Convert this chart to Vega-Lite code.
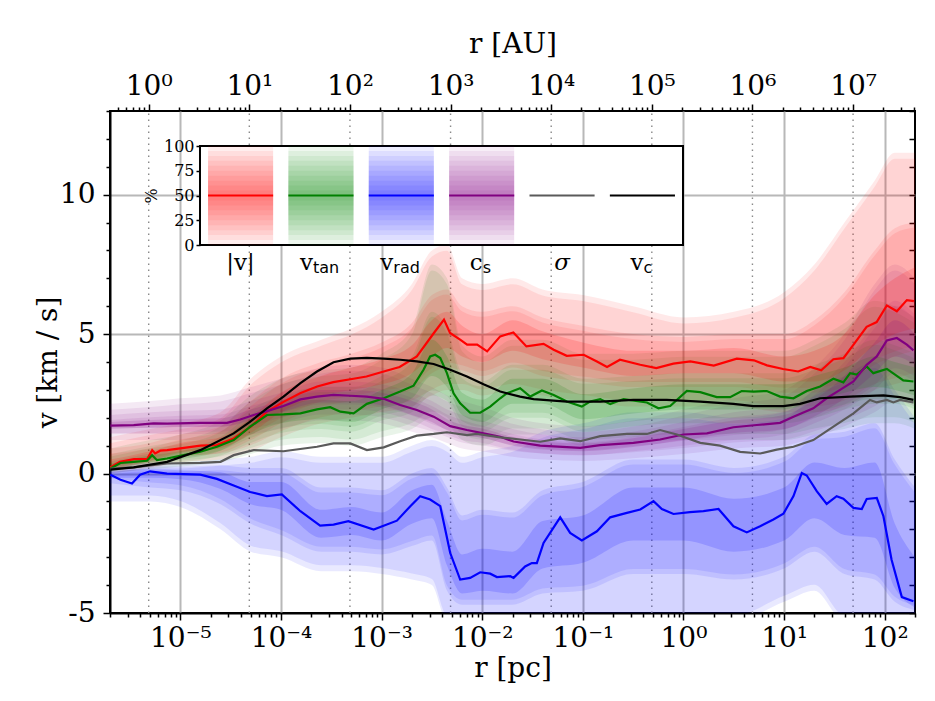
{
  "$schema": "https://vega.github.io/schema/vega-lite/v6.json",
  "width": 805,
  "height": 502,
  "autosize": {"type": "none"},
  "padding": {"left": 110, "top": 111, "right": 20, "bottom": 88},
  "background": "white",
  "config": {
    "font": "DejaVu Serif",
    "view": {"stroke": "black", "strokeWidth": 2},
    "axis": {
      "labelFont": "DejaVu Serif", "titleFont": "DejaVu Serif",
      "labelColor": "black", "titleColor": "black", "titleFontWeight": "normal",
      "domainColor": "black", "tickColor": "black", "domainWidth": 2, "tickWidth": 1.5,
      "gridColor": "#b8b8b8", "gridWidth": 2,
      "labelOverlap": false, "labelFlush": false
    }
  },
  "datasets": {
    "auGrid": [{"au": 1}, {"au": 10}, {"au": 100}, {"au": 1000}, {"au": 10000}, {"au": 100000}, {"au": 1000000}, {"au": 10000000}],
    "bands": [
      {"s":"|v|","r":2e-6,"p5":0.0,"p15":0.1,"p30":0.15,"p70":0.5,"p85":0.9,"p95":1.3},
      {"s":"|v|","r":5.01e-6,"p5":0.2,"p15":0.35,"p30":0.45,"p70":0.8,"p85":1.1,"p95":1.6},
      {"s":"|v|","r":1e-5,"p5":0.4,"p15":0.6,"p30":0.75,"p70":1.1,"p85":1.4,"p95":1.8},
      {"s":"|v|","r":2.51e-5,"p5":0.5,"p15":0.75,"p30":0.9,"p70":1.3,"p85":1.7,"p95":2.2},
      {"s":"|v|","r":5.01e-5,"p5":0.8,"p15":1.2,"p30":1.45,"p70":2.0,"p85":2.6,"p95":3.4},
      {"s":"|v|","r":1e-4,"p5":1.3,"p15":1.8,"p30":2.2,"p70":2.9,"p85":3.4,"p95":4.2},
      {"s":"|v|","r":2.51e-4,"p5":1.8,"p15":2.4,"p30":2.8,"p70":3.5,"p85":4.0,"p95":4.8},
      {"s":"|v|","r":5.01e-4,"p5":2.0,"p15":2.6,"p30":3.0,"p70":3.8,"p85":4.3,"p95":5.2},
      {"s":"|v|","r":1e-3,"p5":2.2,"p15":2.8,"p30":3.2,"p70":4.1,"p85":4.7,"p95":5.8},
      {"s":"|v|","r":2e-3,"p5":2.4,"p15":3.0,"p30":3.6,"p70":4.6,"p85":5.4,"p95":6.8},
      {"s":"|v|","r":3.16e-3,"p5":2.8,"p15":3.6,"p30":4.2,"p70":5.5,"p85":6.4,"p95":8.0},
      {"s":"|v|","r":4.47e-3,"p5":3.0,"p15":3.8,"p30":4.5,"p70":5.8,"p85":6.6,"p95":8.2},
      {"s":"|v|","r":6.31e-3,"p5":3.0,"p15":3.7,"p30":4.2,"p70":5.3,"p85":6.0,"p95":7.0},
      {"s":"|v|","r":0.01,"p5":2.8,"p15":3.5,"p30":4.0,"p70":5.0,"p85":5.8,"p95":6.8},
      {"s":"|v|","r":0.02,"p5":3.0,"p15":3.8,"p30":4.4,"p70":5.5,"p85":6.0,"p95":7.0},
      {"s":"|v|","r":0.0398,"p5":2.8,"p15":3.5,"p30":4.1,"p70":5.1,"p85":5.6,"p95":6.6},
      {"s":"|v|","r":0.1,"p5":2.6,"p15":3.3,"p30":3.8,"p70":4.7,"p85":5.3,"p95":6.4},
      {"s":"|v|","r":0.316,"p5":2.4,"p15":3.1,"p30":3.5,"p70":4.4,"p85":5.0,"p95":6.0},
      {"s":"|v|","r":1,"p5":2.4,"p15":3.1,"p30":3.6,"p70":4.4,"p85":4.9,"p95":5.6},
      {"s":"|v|","r":3.16,"p5":2.4,"p15":3.1,"p30":3.6,"p70":4.5,"p85":5.0,"p95":5.8},
      {"s":"|v|","r":10,"p5":2.2,"p15":2.9,"p30":3.3,"p70":4.2,"p85":5.0,"p95":6.5},
      {"s":"|v|","r":20,"p5":2.2,"p15":2.9,"p30":3.3,"p70":4.4,"p85":5.5,"p95":7.5},
      {"s":"|v|","r":39.8,"p5":2.4,"p15":3.1,"p30":3.7,"p70":5.0,"p85":6.5,"p95":9.0},
      {"s":"|v|","r":79.4,"p5":3.0,"p15":3.9,"p30":4.6,"p70":6.4,"p85":8.0,"p95":10.5},
      {"s":"|v|","r":126,"p5":3.2,"p15":4.2,"p30":5.0,"p70":7.0,"p85":8.8,"p95":11.5},
      {"s":"|v|","r":200,"p5":3.4,"p15":4.4,"p30":5.2,"p70":7.4,"p85":9.0,"p95":11.5},

      {"s":"v_tan","r":2e-6,"p5":0.0,"p15":0.05,"p30":0.1,"p70":0.35,"p85":0.6,"p95":0.9},
      {"s":"v_tan","r":5.01e-6,"p5":0.15,"p15":0.3,"p30":0.4,"p70":0.65,"p85":0.9,"p95":1.2},
      {"s":"v_tan","r":1e-5,"p5":0.25,"p15":0.4,"p30":0.52,"p70":0.8,"p85":1.05,"p95":1.4},
      {"s":"v_tan","r":2.51e-5,"p5":0.4,"p15":0.65,"p30":0.82,"p70":1.2,"p85":1.5,"p95":1.9},
      {"s":"v_tan","r":5.01e-5,"p5":0.7,"p15":1.1,"p30":1.4,"p70":1.95,"p85":2.3,"p95":2.8},
      {"s":"v_tan","r":1e-4,"p5":1.0,"p15":1.45,"p30":1.8,"p70":2.45,"p85":2.8,"p95":3.4},
      {"s":"v_tan","r":2.51e-4,"p5":1.1,"p15":1.6,"p30":1.95,"p70":2.65,"p85":3.1,"p95":3.7},
      {"s":"v_tan","r":5.01e-4,"p5":1.0,"p15":1.5,"p30":1.85,"p70":2.6,"p85":3.1,"p95":3.8},
      {"s":"v_tan","r":1e-3,"p5":1.3,"p15":1.9,"p30":2.3,"p70":3.0,"p85":3.5,"p95":4.3},
      {"s":"v_tan","r":2e-3,"p5":1.6,"p15":2.2,"p30":2.7,"p70":3.6,"p85":4.2,"p95":5.2},
      {"s":"v_tan","r":3.16e-3,"p5":2.0,"p15":2.8,"p30":3.5,"p70":4.8,"p85":5.8,"p95":7.5},
      {"s":"v_tan","r":4.47e-3,"p5":1.8,"p15":2.6,"p30":3.1,"p70":4.2,"p85":5.2,"p95":7.0},
      {"s":"v_tan","r":6.31e-3,"p5":1.2,"p15":1.7,"p30":2.1,"p70":2.9,"p85":3.6,"p95":4.6},
      {"s":"v_tan","r":0.01,"p5":1.0,"p15":1.5,"p30":1.85,"p70":2.65,"p85":3.3,"p95":4.2},
      {"s":"v_tan","r":0.02,"p5":1.4,"p15":2.0,"p30":2.5,"p70":3.4,"p85":3.9,"p95":4.8},
      {"s":"v_tan","r":0.0398,"p5":1.4,"p15":2.0,"p30":2.5,"p70":3.4,"p85":3.9,"p95":4.8},
      {"s":"v_tan","r":0.1,"p5":1.0,"p15":1.5,"p30":1.95,"p70":2.85,"p85":3.4,"p95":4.3},
      {"s":"v_tan","r":0.316,"p5":1.1,"p15":1.7,"p30":2.15,"p70":3.05,"p85":3.5,"p95":4.3},
      {"s":"v_tan","r":1,"p5":1.2,"p15":1.8,"p30":2.3,"p70":3.2,"p85":3.6,"p95":4.4},
      {"s":"v_tan","r":3.16,"p5":1.2,"p15":1.8,"p30":2.3,"p70":3.2,"p85":3.6,"p95":4.4},
      {"s":"v_tan","r":10,"p5":1.2,"p15":1.8,"p30":2.3,"p70":3.2,"p85":3.6,"p95":4.4},
      {"s":"v_tan","r":20,"p5":1.4,"p15":2.0,"p30":2.6,"p70":3.5,"p85":3.9,"p95":4.8},
      {"s":"v_tan","r":39.8,"p5":1.6,"p15":2.3,"p30":2.9,"p70":3.8,"p85":4.3,"p95":5.4},
      {"s":"v_tan","r":79.4,"p5":1.8,"p15":2.5,"p30":3.1,"p70":4.2,"p85":4.8,"p95":6.2},
      {"s":"v_tan","r":126,"p5":1.8,"p15":2.5,"p30":3.0,"p70":4.0,"p85":4.6,"p95":6.0},
      {"s":"v_tan","r":200,"p5":1.6,"p15":2.3,"p30":2.8,"p70":3.8,"p85":4.3,"p95":5.6},

      {"s":"v_rad","r":2e-6,"p5":-1.0,"p15":-0.35,"p30":-0.15,"p70":0.05,"p85":0.15,"p95":0.3},
      {"s":"v_rad","r":5.01e-6,"p5":-1.0,"p15":-0.5,"p30":-0.15,"p70":0.15,"p85":0.25,"p95":0.4},
      {"s":"v_rad","r":1e-5,"p5":-1.2,"p15":-0.6,"p30":-0.2,"p70":0.12,"p85":0.25,"p95":0.4},
      {"s":"v_rad","r":2.51e-5,"p5":-2.0,"p15":-1.1,"p30":-0.55,"p70":0.05,"p85":0.3,"p95":0.5},
      {"s":"v_rad","r":5.01e-5,"p5":-2.8,"p15":-1.8,"p30":-1.1,"p70":-0.3,"p85":0.2,"p95":0.6},
      {"s":"v_rad","r":1e-4,"p5":-3.0,"p15":-2.2,"p30":-1.3,"p70":-0.3,"p85":0.2,"p95":0.8},
      {"s":"v_rad","r":2.51e-4,"p5":-3.5,"p15":-2.8,"p30":-2.3,"p70":-1.3,"p85":-0.5,"p95":0.6},
      {"s":"v_rad","r":5.01e-4,"p5":-3.5,"p15":-2.8,"p30":-2.2,"p70":-1.2,"p85":-0.5,"p95":0.6},
      {"s":"v_rad","r":1e-3,"p5":-3.6,"p15":-2.9,"p30":-2.4,"p70":-1.4,"p85":-0.6,"p95":0.6},
      {"s":"v_rad","r":2e-3,"p5":-3.8,"p15":-2.6,"p30":-1.8,"p70":-0.6,"p85":0.0,"p95":1.0},
      {"s":"v_rad","r":3.16e-3,"p5":-4.0,"p15":-2.4,"p30":-1.6,"p70":-0.4,"p85":0.2,"p95":1.2},
      {"s":"v_rad","r":4.47e-3,"p5":-5.3,"p15":-4.2,"p30":-3.3,"p70":-1.7,"p85":-0.5,"p95":1.0},
      {"s":"v_rad","r":6.31e-3,"p5":-5.3,"p15":-4.7,"p30":-4.3,"p70":-2.9,"p85":-1.5,"p95":0.6},
      {"s":"v_rad","r":0.01,"p5":-5.3,"p15":-4.7,"p30":-4.2,"p70":-2.7,"p85":-1.3,"p95":0.8},
      {"s":"v_rad","r":0.02,"p5":-5.3,"p15":-4.7,"p30":-4.3,"p70":-2.8,"p85":-1.4,"p95":1.0},
      {"s":"v_rad","r":0.0398,"p5":-5.3,"p15":-4.3,"p30":-3.4,"p70":-1.7,"p85":-0.6,"p95":1.5},
      {"s":"v_rad","r":0.1,"p5":-5.3,"p15":-4.2,"p30":-3.2,"p70":-1.5,"p85":-0.3,"p95":1.8},
      {"s":"v_rad","r":0.316,"p5":-5.3,"p15":-3.6,"p30":-2.4,"p70":-0.5,"p85":0.5,"p95":2.2},
      {"s":"v_rad","r":1,"p5":-5.3,"p15":-3.6,"p30":-2.4,"p70":-0.5,"p85":0.5,"p95":2.2},
      {"s":"v_rad","r":3.16,"p5":-5.3,"p15":-3.8,"p30":-2.8,"p70":-0.9,"p85":0.2,"p95":2.0},
      {"s":"v_rad","r":10,"p5":-4.6,"p15":-3.4,"p30":-2.4,"p70":-0.5,"p85":0.6,"p95":2.2},
      {"s":"v_rad","r":20,"p5":-4.2,"p15":-2.8,"p30":-1.6,"p70":0.4,"p85":1.4,"p95":3.0},
      {"s":"v_rad","r":39.8,"p5":-5.3,"p15":-3.6,"p30":-2.2,"p70":0.2,"p85":1.5,"p95":3.5},
      {"s":"v_rad","r":79.4,"p5":-5.3,"p15":-3.8,"p30":-2.3,"p70":0.4,"p85":1.8,"p95":4.0},
      {"s":"v_rad","r":126,"p5":-5.3,"p15":-4.6,"p30":-4.1,"p70":-1.8,"p85":0.5,"p95":3.0},
      {"s":"v_rad","r":200,"p5":-5.3,"p15":-4.9,"p30":-4.8,"p70":-3.0,"p85":-0.5,"p95":2.0},

      {"s":"c_s","r":2e-6,"p5":1.2,"p15":1.45,"p30":1.6,"p70":1.85,"p85":2.1,"p95":2.5},
      {"s":"c_s","r":5.01e-6,"p5":1.2,"p15":1.45,"p30":1.65,"p70":1.92,"p85":2.2,"p95":2.6},
      {"s":"c_s","r":1e-5,"p5":1.2,"p15":1.5,"p30":1.67,"p70":1.95,"p85":2.25,"p95":2.7},
      {"s":"c_s","r":2.51e-5,"p5":1.2,"p15":1.5,"p30":1.68,"p70":1.98,"p85":2.3,"p95":2.8},
      {"s":"c_s","r":5.01e-5,"p5":1.4,"p15":1.7,"p30":1.92,"p70":2.3,"p85":2.6,"p95":3.1},
      {"s":"c_s","r":1e-4,"p5":1.6,"p15":2.0,"p30":2.2,"p70":2.6,"p85":2.9,"p95":3.4},
      {"s":"c_s","r":2.51e-4,"p5":1.9,"p15":2.3,"p30":2.55,"p70":3.0,"p85":3.3,"p95":3.8},
      {"s":"c_s","r":5.01e-4,"p5":1.9,"p15":2.3,"p30":2.55,"p70":3.0,"p85":3.3,"p95":3.9},
      {"s":"c_s","r":1e-3,"p5":1.8,"p15":2.2,"p30":2.45,"p70":2.9,"p85":3.2,"p95":3.8},
      {"s":"c_s","r":2e-3,"p5":1.5,"p15":1.9,"p30":2.1,"p70":2.6,"p85":2.9,"p95":3.4},
      {"s":"c_s","r":3.16e-3,"p5":1.3,"p15":1.6,"p30":1.85,"p70":2.3,"p85":2.6,"p95":3.1},
      {"s":"c_s","r":4.47e-3,"p5":1.1,"p15":1.4,"p30":1.55,"p70":1.95,"p85":2.3,"p95":2.8},
      {"s":"c_s","r":6.31e-3,"p5":0.9,"p15":1.2,"p30":1.38,"p70":1.75,"p85":2.1,"p95":2.6},
      {"s":"c_s","r":0.01,"p5":0.8,"p15":1.1,"p30":1.28,"p70":1.62,"p85":1.9,"p95":2.4},
      {"s":"c_s","r":0.02,"p5":0.6,"p15":0.85,"p30":1.0,"p70":1.32,"p85":1.6,"p95":2.0},
      {"s":"c_s","r":0.0398,"p5":0.5,"p15":0.72,"p30":0.86,"p70":1.15,"p85":1.4,"p95":1.8},
      {"s":"c_s","r":0.1,"p5":0.45,"p15":0.65,"p30":0.8,"p70":1.08,"p85":1.3,"p95":1.7},
      {"s":"c_s","r":0.316,"p5":0.55,"p15":0.8,"p30":0.95,"p70":1.27,"p85":1.5,"p95":1.9},
      {"s":"c_s","r":1,"p5":0.7,"p15":1.0,"p30":1.2,"p70":1.6,"p85":1.85,"p95":2.3},
      {"s":"c_s","r":3.16,"p5":0.9,"p15":1.2,"p30":1.45,"p70":1.9,"p85":2.2,"p95":2.7},
      {"s":"c_s","r":10,"p5":1.0,"p15":1.4,"p30":1.6,"p70":2.1,"p85":2.4,"p95":3.0},
      {"s":"c_s","r":20,"p5":1.3,"p15":1.8,"p30":2.05,"p70":2.65,"p85":3.0,"p95":3.8},
      {"s":"c_s","r":39.8,"p5":1.7,"p15":2.3,"p30":2.7,"p70":3.5,"p85":4.0,"p95":5.0},
      {"s":"c_s","r":79.4,"p5":2.2,"p15":3.0,"p30":3.6,"p70":4.7,"p85":5.4,"p95":6.8},
      {"s":"c_s","r":126,"p5":2.6,"p15":3.6,"p30":4.2,"p70":5.5,"p85":6.2,"p95":7.5},
      {"s":"c_s","r":200,"p5":2.4,"p15":3.3,"p30":3.9,"p70":5.0,"p85":5.7,"p95":7.0}
    ],
    "lines": [
      {"s":"|v|","r":2e-6,"v":0.22},{"s":"|v|","r":2.51e-6,"v":0.42},{"s":"|v|","r":3.47e-6,"v":0.52},
      {"s":"|v|","r":4.68e-6,"v":0.52},{"s":"|v|","r":5.25e-6,"v":0.84},{"s":"|v|","r":5.62e-6,"v":0.72},
      {"s":"|v|","r":6.31e-6,"v":0.82},{"s":"|v|","r":7.41e-6,"v":0.84},{"s":"|v|","r":1e-5,"v":0.9},
      {"s":"|v|","r":1.58e-5,"v":1.0},{"s":"|v|","r":2.29e-5,"v":1.02},{"s":"|v|","r":3.39e-5,"v":1.26},
      {"s":"|v|","r":5.01e-5,"v":1.68},{"s":"|v|","r":7.24e-5,"v":2.22},{"s":"|v|","r":1.07e-4,"v":2.58},
      {"s":"|v|","r":1.55e-4,"v":2.88},{"s":"|v|","r":2.29e-4,"v":3.12},{"s":"|v|","r":3.31e-4,"v":3.28},
      {"s":"|v|","r":5.25e-4,"v":3.4},{"s":"|v|","r":7.08e-4,"v":3.48},{"s":"|v|","r":1.05e-3,"v":3.66},
      {"s":"|v|","r":1.51e-3,"v":3.82},{"s":"|v|","r":2.24e-3,"v":4.2},{"s":"|v|","r":3.31e-3,"v":5.04},
      {"s":"|v|","r":4.17e-3,"v":5.52},{"s":"|v|","r":4.79e-3,"v":5.04},{"s":"|v|","r":6.03e-3,"v":4.8},
      {"s":"|v|","r":7.08e-3,"v":4.62},{"s":"|v|","r":8.91e-3,"v":4.62},{"s":"|v|","r":1.12e-2,"v":4.38},
      {"s":"|v|","r":1.51e-2,"v":4.92},{"s":"|v|","r":2.04e-2,"v":5.06},{"s":"|v|","r":2.75e-2,"v":4.56},
      {"s":"|v|","r":4.07e-2,"v":4.65},{"s":"|v|","r":5.13e-2,"v":4.44},{"s":"|v|","r":6.92e-2,"v":4.22},
      {"s":"|v|","r":0.102,"v":4.26},{"s":"|v|","r":0.138,"v":4.02},{"s":"|v|","r":0.174,"v":3.82},
      {"s":"|v|","r":0.234,"v":4.08},{"s":"|v|","r":0.372,"v":3.9},{"s":"|v|","r":0.537,"v":3.78},
      {"s":"|v|","r":0.794,"v":3.94},{"s":"|v|","r":1.17,"v":4.02},{"s":"|v|","r":2.0,"v":3.87},
      {"s":"|v|","r":3.39,"v":4.12},{"s":"|v|","r":5.01,"v":4.06},{"s":"|v|","r":6.76,"v":3.88},
      {"s":"|v|","r":9.77,"v":3.75},{"s":"|v|","r":13.8,"v":3.66},{"s":"|v|","r":18.2,"v":3.82},
      {"s":"|v|","r":23.4,"v":3.7},{"s":"|v|","r":30.9,"v":4.1},{"s":"|v|","r":38.9,"v":4.14},
      {"s":"|v|","r":49.0,"v":4.62},{"s":"|v|","r":66.1,"v":5.26},{"s":"|v|","r":83.2,"v":5.43},
      {"s":"|v|","r":105,"v":6.03},{"s":"|v|","r":132,"v":5.82},{"s":"|v|","r":166,"v":6.22},
      {"s":"|v|","r":195,"v":6.18},

      {"s":"v_tan","r":2.02e-6,"v":0.18},{"s":"v_tan","r":2.54e-6,"v":0.38},{"s":"v_tan","r":3.44e-6,"v":0.42},
      {"s":"v_tan","r":4.67e-6,"v":0.46},{"s":"v_tan","r":5.24e-6,"v":0.66},{"s":"v_tan","r":5.86e-6,"v":0.48},
      {"s":"v_tan","r":7.38e-6,"v":0.54},{"s":"v_tan","r":1.08e-5,"v":0.66},{"s":"v_tan","r":1.58e-5,"v":0.78},
      {"s":"v_tan","r":2.31e-5,"v":0.96},{"s":"v_tan","r":3.39e-5,"v":1.2},{"s":"v_tan","r":4.95e-5,"v":1.68},
      {"s":"v_tan","r":7.26e-5,"v":2.1},{"s":"v_tan","r":1.06e-4,"v":2.12},{"s":"v_tan","r":1.56e-4,"v":2.16},
      {"s":"v_tan","r":2.28e-4,"v":2.3},{"s":"v_tan","r":3.09e-4,"v":2.38},{"s":"v_tan","r":3.89e-4,"v":2.22},
      {"s":"v_tan","r":5.27e-4,"v":2.16},{"s":"v_tan","r":7.14e-4,"v":2.5},{"s":"v_tan","r":1.05e-3,"v":2.7},
      {"s":"v_tan","r":1.53e-3,"v":2.94},{"s":"v_tan","r":2.08e-3,"v":3.15},{"s":"v_tan","r":2.61e-3,"v":3.72},
      {"s":"v_tan","r":3.04e-3,"v":4.2},{"s":"v_tan","r":3.41e-3,"v":4.26},{"s":"v_tan","r":3.83e-3,"v":4.14},
      {"s":"v_tan","r":4.46e-3,"v":3.6},{"s":"v_tan","r":5.19e-3,"v":2.88},{"s":"v_tan","r":6.04e-3,"v":2.52},
      {"s":"v_tan","r":7.59e-3,"v":2.18},{"s":"v_tan","r":9.55e-3,"v":2.18},{"s":"v_tan","r":1.2e-2,"v":2.4},
      {"s":"v_tan","r":1.51e-2,"v":2.7},{"s":"v_tan","r":1.76e-2,"v":2.88},{"s":"v_tan","r":2.38e-2,"v":3.06},
      {"s":"v_tan","r":3.0e-2,"v":2.76},{"s":"v_tan","r":3.92e-2,"v":2.98},{"s":"v_tan","r":5.13e-2,"v":2.82},
      {"s":"v_tan","r":6.93e-2,"v":2.58},{"s":"v_tan","r":9.77e-2,"v":2.4},{"s":"v_tan","r":0.118,"v":2.58},
      {"s":"v_tan","r":0.149,"v":2.67},{"s":"v_tan","r":0.187,"v":2.49},{"s":"v_tan","r":0.254,"v":2.67},
      {"s":"v_tan","r":0.433,"v":2.55},{"s":"v_tan","r":0.565,"v":2.34},{"s":"v_tan","r":0.738,"v":2.42},
      {"s":"v_tan","r":1.08,"v":2.96},{"s":"v_tan","r":1.47,"v":2.92},{"s":"v_tan","r":2.14,"v":2.74},
      {"s":"v_tan","r":2.91,"v":2.74},{"s":"v_tan","r":3.79,"v":2.96},{"s":"v_tan","r":4.95,"v":2.94},
      {"s":"v_tan","r":6.73,"v":2.96},{"s":"v_tan","r":9.12,"v":2.76},{"s":"v_tan","r":12.4,"v":2.7},
      {"s":"v_tan","r":16.8,"v":2.96},{"s":"v_tan","r":22.8,"v":3.12},{"s":"v_tan","r":30.9,"v":3.4},
      {"s":"v_tan","r":38.8,"v":3.27},{"s":"v_tan","r":45.3,"v":3.6},{"s":"v_tan","r":52.7,"v":3.55},
      {"s":"v_tan","r":66.2,"v":3.84},{"s":"v_tan","r":77.1,"v":3.6},{"s":"v_tan","r":105,"v":3.75},
      {"s":"v_tan","r":132,"v":3.5},{"s":"v_tan","r":153,"v":3.34},{"s":"v_tan","r":193,"v":3.3},

      {"s":"v_rad","r":2.02e-6,"v":-0.04},{"s":"v_rad","r":2.54e-6,"v":-0.22},{"s":"v_rad","r":3.31e-6,"v":-0.36},
      {"s":"v_rad","r":3.98e-6,"v":-0.04},{"s":"v_rad","r":5.01e-6,"v":0.08},{"s":"v_rad","r":7.38e-6,"v":0.0},
      {"s":"v_rad","r":1.58e-5,"v":-0.04},{"s":"v_rad","r":2.31e-5,"v":-0.19},{"s":"v_rad","r":3.39e-5,"v":-0.43},
      {"s":"v_rad","r":4.95e-5,"v":-0.66},{"s":"v_rad","r":7.26e-5,"v":-0.81},{"s":"v_rad","r":1.02e-4,"v":-0.75},
      {"s":"v_rad","r":1.56e-4,"v":-1.35},{"s":"v_rad","r":2.45e-4,"v":-1.87},{"s":"v_rad","r":3.33e-4,"v":-1.83},
      {"s":"v_rad","r":4.68e-4,"v":-1.71},{"s":"v_rad","r":8.34e-4,"v":-2.01},{"s":"v_rad","r":1.42e-3,"v":-1.69},
      {"s":"v_rad","r":1.93e-3,"v":-1.17},{"s":"v_rad","r":2.42e-3,"v":-0.81},{"s":"v_rad","r":3.04e-3,"v":-0.93},
      {"s":"v_rad","r":3.83e-3,"v":-1.17},{"s":"v_rad","r":4.81e-3,"v":-2.85},{"s":"v_rad","r":6.04e-3,"v":-3.8},
      {"s":"v_rad","r":7.59e-3,"v":-3.74},{"s":"v_rad","r":9.55e-3,"v":-3.54},{"s":"v_rad","r":1.2e-2,"v":-3.59},
      {"s":"v_rad","r":1.4e-2,"v":-3.71},{"s":"v_rad","r":1.9e-2,"v":-3.68},{"s":"v_rad","r":2.05e-2,"v":-3.74},
      {"s":"v_rad","r":2.67e-2,"v":-3.33},{"s":"v_rad","r":3.11e-2,"v":-3.21},{"s":"v_rad","r":3.49e-2,"v":-3.21},
      {"s":"v_rad","r":4.07e-2,"v":-2.49},{"s":"v_rad","r":5.96e-2,"v":-1.57},{"s":"v_rad","r":7.48e-2,"v":-2.13},
      {"s":"v_rad","r":9.77e-2,"v":-2.4},{"s":"v_rad","r":0.138,"v":-2.07},{"s":"v_rad","r":0.187,"v":-1.57},
      {"s":"v_rad","r":0.274,"v":-1.41},{"s":"v_rad","r":0.372,"v":-1.29},{"s":"v_rad","r":0.504,"v":-0.99},
      {"s":"v_rad","r":0.61,"v":-1.27},{"s":"v_rad","r":0.796,"v":-1.45},{"s":"v_rad","r":1.16,"v":-1.38},
      {"s":"v_rad","r":1.58,"v":-1.35},{"s":"v_rad","r":2.23,"v":-1.27},{"s":"v_rad","r":3.14,"v":-1.89},
      {"s":"v_rad","r":4.26,"v":-2.11},{"s":"v_rad","r":5.78,"v":-1.89},{"s":"v_rad","r":7.83,"v":-1.65},
      {"s":"v_rad","r":9.84,"v":-1.44},{"s":"v_rad","r":12.4,"v":-0.81},{"s":"v_rad","r":15.0,"v":0.02},
      {"s":"v_rad","r":16.8,"v":-0.07},{"s":"v_rad","r":21.1,"v":-0.63},{"s":"v_rad","r":26.5,"v":-1.09},
      {"s":"v_rad","r":33.3,"v":-0.81},{"s":"v_rad","r":38.8,"v":-0.9},{"s":"v_rad","r":48.9,"v":-1.23},
      {"s":"v_rad","r":59.2,"v":-1.27},{"s":"v_rad","r":66.2,"v":-0.91},{"s":"v_rad","r":83.4,"v":-0.87},
      {"s":"v_rad","r":97.1,"v":-1.53},{"s":"v_rad","r":117,"v":-3.09},{"s":"v_rad","r":148,"v":-4.43},
      {"s":"v_rad","r":193,"v":-4.58},

      {"s":"c_s","r":2.02e-6,"v":1.72},{"s":"c_s","r":3.44e-6,"v":1.74},{"s":"c_s","r":5.43e-6,"v":1.8},
      {"s":"c_s","r":7.38e-6,"v":1.79},{"s":"c_s","r":1.58e-5,"v":1.82},{"s":"c_s","r":2.91e-5,"v":1.82},
      {"s":"c_s","r":3.94e-5,"v":1.94},{"s":"c_s","r":5.35e-5,"v":2.1},{"s":"c_s","r":7.26e-5,"v":2.24},
      {"s":"c_s","r":1.06e-4,"v":2.42},{"s":"c_s","r":1.56e-4,"v":2.66},{"s":"c_s","r":2.28e-4,"v":2.76},
      {"s":"c_s","r":3.33e-4,"v":2.82},{"s":"c_s","r":4.89e-4,"v":2.79},{"s":"c_s","r":7.14e-4,"v":2.76},
      {"s":"c_s","r":1.05e-3,"v":2.68},{"s":"c_s","r":1.53e-3,"v":2.46},{"s":"c_s","r":2.24e-3,"v":2.28},
      {"s":"c_s","r":3.29e-3,"v":2.04},{"s":"c_s","r":4.81e-3,"v":1.7},{"s":"c_s","r":7.05e-3,"v":1.56},
      {"s":"c_s","r":1.03e-2,"v":1.44},{"s":"c_s","r":1.51e-2,"v":1.32},{"s":"c_s","r":2.05e-2,"v":1.15},
      {"s":"c_s","r":3.77e-2,"v":1.0},{"s":"c_s","r":9.42e-2,"v":0.92},{"s":"c_s","r":0.149,"v":1.02},
      {"s":"c_s","r":0.318,"v":1.1},{"s":"c_s","r":0.586,"v":1.22},{"s":"c_s","r":1.0,"v":1.4},
      {"s":"c_s","r":1.71,"v":1.44},{"s":"c_s","r":3.14,"v":1.66},{"s":"c_s","r":5.35,"v":1.74},
      {"s":"c_s","r":9.12,"v":1.82},{"s":"c_s","r":12.4,"v":2.04},{"s":"c_s","r":19.5,"v":2.34},
      {"s":"c_s","r":26.5,"v":2.7},{"s":"c_s","r":36.0,"v":3.0},{"s":"c_s","r":48.9,"v":3.3},
      {"s":"c_s","r":66.2,"v":3.9},{"s":"c_s","r":83.4,"v":4.2},{"s":"c_s","r":105,"v":4.77},
      {"s":"c_s","r":132,"v":4.86},{"s":"c_s","r":166,"v":4.62},{"s":"c_s","r":193,"v":4.42},

      {"s":"σ","r":2.02e-6,"v":0.18},{"s":"σ","r":3.44e-6,"v":0.22},{"s":"σ","r":7.38e-6,"v":0.36},
      {"s":"σ","r":1.58e-5,"v":0.38},{"s":"σ","r":2.51e-5,"v":0.42},{"s":"σ","r":3.39e-5,"v":0.66},
      {"s":"σ","r":5.35e-5,"v":0.84},{"s":"σ","r":1.06e-4,"v":0.8},{"s":"σ","r":2.28e-4,"v":0.96},
      {"s":"σ","r":3.33e-4,"v":1.08},{"s":"σ","r":4.89e-4,"v":1.08},{"s":"σ","r":7.14e-4,"v":0.84},
      {"s":"σ","r":1.05e-3,"v":0.94},{"s":"σ","r":1.53e-3,"v":1.16},{"s":"σ","r":2.24e-3,"v":1.36},
      {"s":"σ","r":3.29e-3,"v":1.42},{"s":"σ","r":4.46e-3,"v":1.48},{"s":"σ","r":7.05e-3,"v":1.38},
      {"s":"σ","r":8.85e-3,"v":1.42},{"s":"σ","r":1.51e-2,"v":1.3},{"s":"σ","r":2.38e-2,"v":1.22},
      {"s":"σ","r":3.77e-2,"v":1.14},{"s":"σ","r":5.96e-2,"v":1.26},{"s":"σ","r":9.42e-2,"v":1.16},
      {"s":"σ","r":0.149,"v":1.34},{"s":"σ","r":0.274,"v":1.42},{"s":"σ","r":0.433,"v":1.42},
      {"s":"σ","r":0.586,"v":1.56},{"s":"σ","r":0.859,"v":1.4},{"s":"σ","r":1.47,"v":1.1},
      {"s":"σ","r":2.31,"v":1.0},{"s":"σ","r":3.66,"v":0.78},{"s":"σ","r":5.78,"v":0.72},
      {"s":"σ","r":8.45,"v":0.86},{"s":"σ","r":12.4,"v":0.96},{"s":"σ","r":19.5,"v":1.2},
      {"s":"σ","r":30.9,"v":1.68},{"s":"σ","r":48.9,"v":2.16},{"s":"σ","r":71.4,"v":2.64},
      {"s":"σ","r":83.4,"v":2.55},{"s":"σ","r":105,"v":2.64},{"s":"σ","r":122,"v":2.55},
      {"s":"σ","r":142,"v":2.64},{"s":"σ","r":193,"v":2.55},

      {"s":"v_c","r":2.02e-6,"v":0.14},{"s":"v_c","r":3.44e-6,"v":0.22},{"s":"v_c","r":7.38e-6,"v":0.42},
      {"s":"v_c","r":1.58e-5,"v":0.84},{"s":"v_c","r":3.39e-5,"v":1.44},{"s":"v_c","r":4.95e-5,"v":1.86},
      {"s":"v_c","r":7.26e-5,"v":2.34},{"s":"v_c","r":1.06e-4,"v":2.76},{"s":"v_c","r":1.56e-4,"v":3.24},
      {"s":"v_c","r":2.28e-4,"v":3.66},{"s":"v_c","r":3.33e-4,"v":3.99},{"s":"v_c","r":4.89e-4,"v":4.12},
      {"s":"v_c","r":7.14e-4,"v":4.15},{"s":"v_c","r":1.05e-3,"v":4.12},{"s":"v_c","r":1.53e-3,"v":4.08},
      {"s":"v_c","r":2.24e-3,"v":4.02},{"s":"v_c","r":3.29e-3,"v":3.93},{"s":"v_c","r":4.81e-3,"v":3.72},
      {"s":"v_c","r":7.05e-3,"v":3.48},{"s":"v_c","r":1.03e-2,"v":3.2},{"s":"v_c","r":1.51e-2,"v":2.94},
      {"s":"v_c","r":2.38e-2,"v":2.76},{"s":"v_c","r":3.24e-2,"v":2.67},{"s":"v_c","r":6.93e-2,"v":2.58},
      {"s":"v_c","r":0.149,"v":2.58},{"s":"v_c","r":0.318,"v":2.64},{"s":"v_c","r":0.682,"v":2.64},
      {"s":"v_c","r":1.47,"v":2.58},{"s":"v_c","r":3.14,"v":2.5},{"s":"v_c","r":4.95,"v":2.42},
      {"s":"v_c","r":9.84,"v":2.42},{"s":"v_c","r":14.4,"v":2.5},{"s":"v_c","r":22.8,"v":2.7},
      {"s":"v_c","r":45.3,"v":2.76},{"s":"v_c","r":97.1,"v":2.8},{"s":"v_c","r":142,"v":2.74},
      {"s":"v_c","r":193,"v":2.64}
    ],
    "insetFrame": [{"box": "legend"}],
    "insetBands": [
      {"s":"|v|","lo":0,"hi":100},{"s":"|v|","lo":5,"hi":95},{"s":"|v|","lo":10,"hi":90},{"s":"|v|","lo":15,"hi":85},{"s":"|v|","lo":20,"hi":80},
      {"s":"|v|","lo":25,"hi":75},{"s":"|v|","lo":30,"hi":70},{"s":"|v|","lo":35,"hi":65},{"s":"|v|","lo":40,"hi":60},{"s":"|v|","lo":45,"hi":55},
      {"s":"v_tan","lo":0,"hi":100},{"s":"v_tan","lo":5,"hi":95},{"s":"v_tan","lo":10,"hi":90},{"s":"v_tan","lo":15,"hi":85},{"s":"v_tan","lo":20,"hi":80},
      {"s":"v_tan","lo":25,"hi":75},{"s":"v_tan","lo":30,"hi":70},{"s":"v_tan","lo":35,"hi":65},{"s":"v_tan","lo":40,"hi":60},{"s":"v_tan","lo":45,"hi":55},
      {"s":"v_rad","lo":0,"hi":100},{"s":"v_rad","lo":5,"hi":95},{"s":"v_rad","lo":10,"hi":90},{"s":"v_rad","lo":15,"hi":85},{"s":"v_rad","lo":20,"hi":80},
      {"s":"v_rad","lo":25,"hi":75},{"s":"v_rad","lo":30,"hi":70},{"s":"v_rad","lo":35,"hi":65},{"s":"v_rad","lo":40,"hi":60},{"s":"v_rad","lo":45,"hi":55},
      {"s":"c_s","lo":0,"hi":100},{"s":"c_s","lo":5,"hi":95},{"s":"c_s","lo":10,"hi":90},{"s":"c_s","lo":15,"hi":85},{"s":"c_s","lo":20,"hi":80},
      {"s":"c_s","lo":25,"hi":75},{"s":"c_s","lo":30,"hi":70},{"s":"c_s","lo":35,"hi":65},{"s":"c_s","lo":40,"hi":60},{"s":"c_s","lo":45,"hi":55}
    ],
    "insetKeys": [
      {"s":"|v|","base":"|v|","sub":""},
      {"s":"v_tan","base":"v","sub":"tan"},
      {"s":"v_rad","base":"v","sub":"rad"},
      {"s":"c_s","base":"c","sub":"s"},
      {"s":"σ","base":"σ","sub":""},
      {"s":"v_c","base":"v","sub":"c"}
    ]
  },
  "resolve": {"scale": {"x": "independent", "y": "independent"}},
  "layer": [
    {
      "data": {"name": "auGrid"},
      "mark": {"type": "rule", "color": "#8a8a8a", "strokeWidth": 1.4, "strokeDash": [1.5, 4.5]},
      "encoding": {
        "x": {
          "field": "au", "type": "quantitative",
          "scale": {"type": "log", "domain": [0.41253, 41253000], "nice": false},
          "axis": {
            "orient": "top", "title": "r [AU]", "domain": false, "grid": false,
            "values": [0.5,0.6,0.7,0.8,0.9,1,2,3,4,5,6,7,8,9,10,20,30,40,50,60,70,80,90,100,200,300,400,500,600,700,800,900,1000,2000,3000,4000,5000,6000,7000,8000,9000,10000,20000,30000,40000,50000,60000,70000,80000,90000,100000,200000,300000,400000,500000,600000,700000,800000,900000,1000000,2000000,3000000,4000000,5000000,6000000,7000000,8000000,9000000,10000000,20000000,30000000,40000000],
            "labelExpr": "abs(log(datum.value)/LN10 - round(log(datum.value)/LN10)) < 0.001 ? '10' + (datum.value < 1 ? '⁻' : '') + ['⁰','¹','²','³','⁴','⁵','⁶','⁷','⁸','⁹'][abs(round(log(datum.value)/LN10))] : ''",
            "tickSize": {"condition": {"test": "abs(log(datum.value)/LN10 - round(log(datum.value)/LN10)) < 0.001", "value": 7}, "value": 4},
            "labelFontSize": 28, "titleFontSize": 28, "labelPadding": 4, "titlePadding": 14
          }
        },
        "y": {
          "datum": -5, "type": "quantitative",
          "scale": {"domain": [-5, 13], "nice": false},
          "axis": {
            "orient": "right", "title": null, "labels": false, "domain": false, "grid": false,
            "values": [-5,-4,-3,-2,-1,0,1,2,3,4,5,6,7,8,9,10,11,12,13],
            "tickSize": -6
          }
        },
        "y2": {"datum": 13}
      }
    },
    {
      "encoding": {
        "x": {
          "field": "r", "type": "quantitative",
          "scale": {"type": "log", "domain": [2e-6, 200], "nice": false},
          "axis": {
            "orient": "bottom", "title": "r [pc]",
            "values": [2e-6,3e-6,4e-6,5e-6,6e-6,7e-6,8e-6,9e-6,1e-5,2e-5,3e-5,4e-5,5e-5,6e-5,7e-5,8e-5,9e-5,1e-4,2e-4,3e-4,4e-4,5e-4,6e-4,7e-4,8e-4,9e-4,1e-3,2e-3,3e-3,4e-3,5e-3,6e-3,7e-3,8e-3,9e-3,0.01,0.02,0.03,0.04,0.05,0.06,0.07,0.08,0.09,0.1,0.2,0.3,0.4,0.5,0.6,0.7,0.8,0.9,1,2,3,4,5,6,7,8,9,10,20,30,40,50,60,70,80,90,100,200],
            "labelExpr": "abs(log(datum.value)/LN10 - round(log(datum.value)/LN10)) < 0.001 ? '10' + (datum.value < 1 ? '⁻' : '') + ['⁰','¹','²','³','⁴','⁵','⁶','⁷','⁸','⁹'][abs(round(log(datum.value)/LN10))] : ''",
            "tickSize": {"condition": {"test": "abs(log(datum.value)/LN10 - round(log(datum.value)/LN10)) < 0.001", "value": 7}, "value": 4},
            "grid": true,
            "gridOpacity": {"condition": {"test": "abs(log(datum.value)/LN10 - round(log(datum.value)/LN10)) < 0.001", "value": 1}, "value": 0},
            "labelFontSize": 28, "titleFontSize": 28, "labelPadding": 4, "titlePadding": 2
          }
        },
        "y": {
          "type": "quantitative",
          "scale": {"domain": [-5, 13], "nice": false},
          "axis": {
            "orient": "left", "title": "v [km / s]",
            "values": [-5,-4,-3,-2,-1,0,1,2,3,4,5,6,7,8,9,10,11,12,13],
            "labelExpr": "datum.value % 5 == 0 ? (datum.value < 0 ? '-' + abs(datum.value) : '' + datum.value) : ''",
            "tickSize": {"condition": {"test": "datum.value % 5 == 0", "value": 7}, "value": 4},
            "grid": true,
            "gridOpacity": {"condition": {"test": "datum.value % 5 == 0 && datum.value > -5", "value": 1}, "value": 0},
            "labelFontSize": 28, "titleFontSize": 28, "labelPadding": 8, "titlePadding": -3
          }
        },
        "color": {
          "field": "s", "type": "nominal",
          "scale": {"domain": ["|v|", "v_tan", "v_rad", "c_s", "σ", "v_c"], "range": ["#ff0000", "#008000", "#0000ff", "#800080", "#5a5a5a", "#000000"]},
          "legend": null
        }
      },
      "layer": [
        {
          "data": {"name": "bands"},
          "mark": {"type": "area", "opacity": 0.085, "interpolate": "monotone", "clip": true},
          "encoding": {"y": {"field": "p5"}, "y2": {"field": "p95"}}
        },
        {
          "data": {"name": "bands"},
          "mark": {"type": "area", "opacity": 0.085, "interpolate": "monotone", "clip": true, "yOffset": -6, "y2Offset": 6},
          "encoding": {"y": {"field": "p5"}, "y2": {"field": "p95"}}
        },
        {
          "data": {"name": "bands"},
          "mark": {"type": "area", "opacity": 0.09, "interpolate": "monotone", "clip": true},
          "encoding": {"y": {"field": "p15"}, "y2": {"field": "p85"}}
        },
        {
          "data": {"name": "bands"},
          "mark": {"type": "area", "opacity": 0.09, "interpolate": "monotone", "clip": true, "yOffset": -5, "y2Offset": 5},
          "encoding": {"y": {"field": "p15"}, "y2": {"field": "p85"}}
        },
        {
          "data": {"name": "bands"},
          "mark": {"type": "area", "opacity": 0.15, "interpolate": "monotone", "clip": true},
          "encoding": {"y": {"field": "p30"}, "y2": {"field": "p70"}}
        },
        {
          "data": {"name": "lines"},
          "mark": {"type": "line", "strokeWidth": 2.2, "clip": true},
          "encoding": {"y": {"field": "v"}}
        }
      ]
    },
    {
      "layer": [
        {
          "data": {"name": "insetFrame"},
          "mark": {"type": "rect", "fill": "white", "stroke": "black", "strokeWidth": 2},
          "encoding": {
            "x": {"datum": "|v|", "type": "nominal", "bandPosition": -0.1235,
                  "scale": {"type": "band", "domain": ["|v|", "v_tan", "v_rad", "c_s", "σ", "v_c"], "range": [90, 573], "paddingInner": 0.19, "paddingOuter": 0.1}, "axis": null},
            "x2": {"datum": "v_c", "bandPosition": 1.1235},
            "y": {"datum": 0, "type": "quantitative", "scale": {"domain": [0, 100], "range": [134, 35], "nice": false},
                  "axis": {"orient": "left", "offset": -90, "zindex": 1, "values": [0, 25, 50, 75, 100], "title": "%", "domain": false, "grid": false,
                           "labelFontSize": 16, "titleFontSize": 16, "tickSize": 4, "labelPadding": 2, "titlePadding": 4}},
            "y2": {"datum": 100}
          }
        },
        {
          "data": {"name": "insetBands"},
          "mark": {"type": "rect", "opacity": 0.067},
          "encoding": {
            "x": {"field": "s", "type": "nominal", "scale": {"type": "band", "domain": ["|v|", "v_tan", "v_rad", "c_s", "σ", "v_c"], "range": [90, 573], "paddingInner": 0.19, "paddingOuter": 0.1}, "axis": null},
            "y": {"field": "lo", "type": "quantitative", "scale": {"domain": [0, 100], "range": [134, 35], "nice": false}},
            "y2": {"field": "hi"},
            "color": {"field": "s", "type": "nominal", "legend": null}
          }
        },
        {
          "data": {"name": "insetKeys"},
          "mark": {"type": "rect"},
          "encoding": {
            "x": {"field": "s", "type": "nominal", "axis": null},
            "y": {"datum": 49, "type": "quantitative"},
            "y2": {"datum": 51},
            "color": {"field": "s", "type": "nominal", "legend": null}
          }
        },
        {
          "data": {"name": "insetKeys"},
          "transform": [{"filter": "datum.s == '|v|'"}],
          "mark": {"type": "text", "font": "DejaVu Serif", "fontSize": 23, "align": "center", "baseline": "alphabetic", "color": "black"},
          "encoding": {"x": {"field": "s", "type": "nominal", "bandPosition": 0.5, "axis": null}, "y": {"datum": -25, "type": "quantitative"}, "text": {"field": "base"}}
        },
        {
          "data": {"name": "insetKeys"},
          "transform": [{"filter": "datum.s == 'σ'"}],
          "mark": {"type": "text", "font": "DejaVu Serif", "fontSize": 23, "fontStyle": "italic", "align": "center", "baseline": "alphabetic", "color": "black"},
          "encoding": {"x": {"field": "s", "type": "nominal", "bandPosition": 0.5, "axis": null}, "y": {"datum": -25, "type": "quantitative"}, "text": {"field": "base"}}
        },
        {
          "data": {"name": "insetKeys"},
          "transform": [{"filter": "datum.s == 'v_tan' || datum.s == 'v_rad'"}],
          "mark": {"type": "text", "font": "DejaVu Serif", "fontSize": 23, "align": "right", "dx": -8, "baseline": "alphabetic", "color": "black"},
          "encoding": {"x": {"field": "s", "type": "nominal", "bandPosition": 0.5, "axis": null}, "y": {"datum": -25, "type": "quantitative"}, "text": {"field": "base"}}
        },
        {
          "data": {"name": "insetKeys"},
          "transform": [{"filter": "datum.s == 'v_tan' || datum.s == 'v_rad'"}],
          "mark": {"type": "text", "font": "DejaVu Sans", "fontSize": 16, "align": "left", "dx": -8, "baseline": "alphabetic", "color": "black"},
          "encoding": {"x": {"field": "s", "type": "nominal", "bandPosition": 0.5, "axis": null}, "y": {"datum": -28.5, "type": "quantitative"}, "text": {"field": "sub"}}
        },
        {
          "data": {"name": "insetKeys"},
          "transform": [{"filter": "datum.s == 'c_s' || datum.s == 'v_c'"}],
          "mark": {"type": "text", "font": "DejaVu Serif", "fontSize": 23, "align": "right", "dx": 1, "baseline": "alphabetic", "color": "black"},
          "encoding": {"x": {"field": "s", "type": "nominal", "bandPosition": 0.5, "axis": null}, "y": {"datum": -25, "type": "quantitative"}, "text": {"field": "base"}}
        },
        {
          "data": {"name": "insetKeys"},
          "transform": [{"filter": "datum.s == 'c_s' || datum.s == 'v_c'"}],
          "mark": {"type": "text", "font": "DejaVu Sans", "fontSize": 16, "align": "left", "dx": 1, "baseline": "alphabetic", "color": "black"},
          "encoding": {"x": {"field": "s", "type": "nominal", "bandPosition": 0.5, "axis": null}, "y": {"datum": -28.5, "type": "quantitative"}, "text": {"field": "sub"}}
        }
      ]
    }
  ]
}
